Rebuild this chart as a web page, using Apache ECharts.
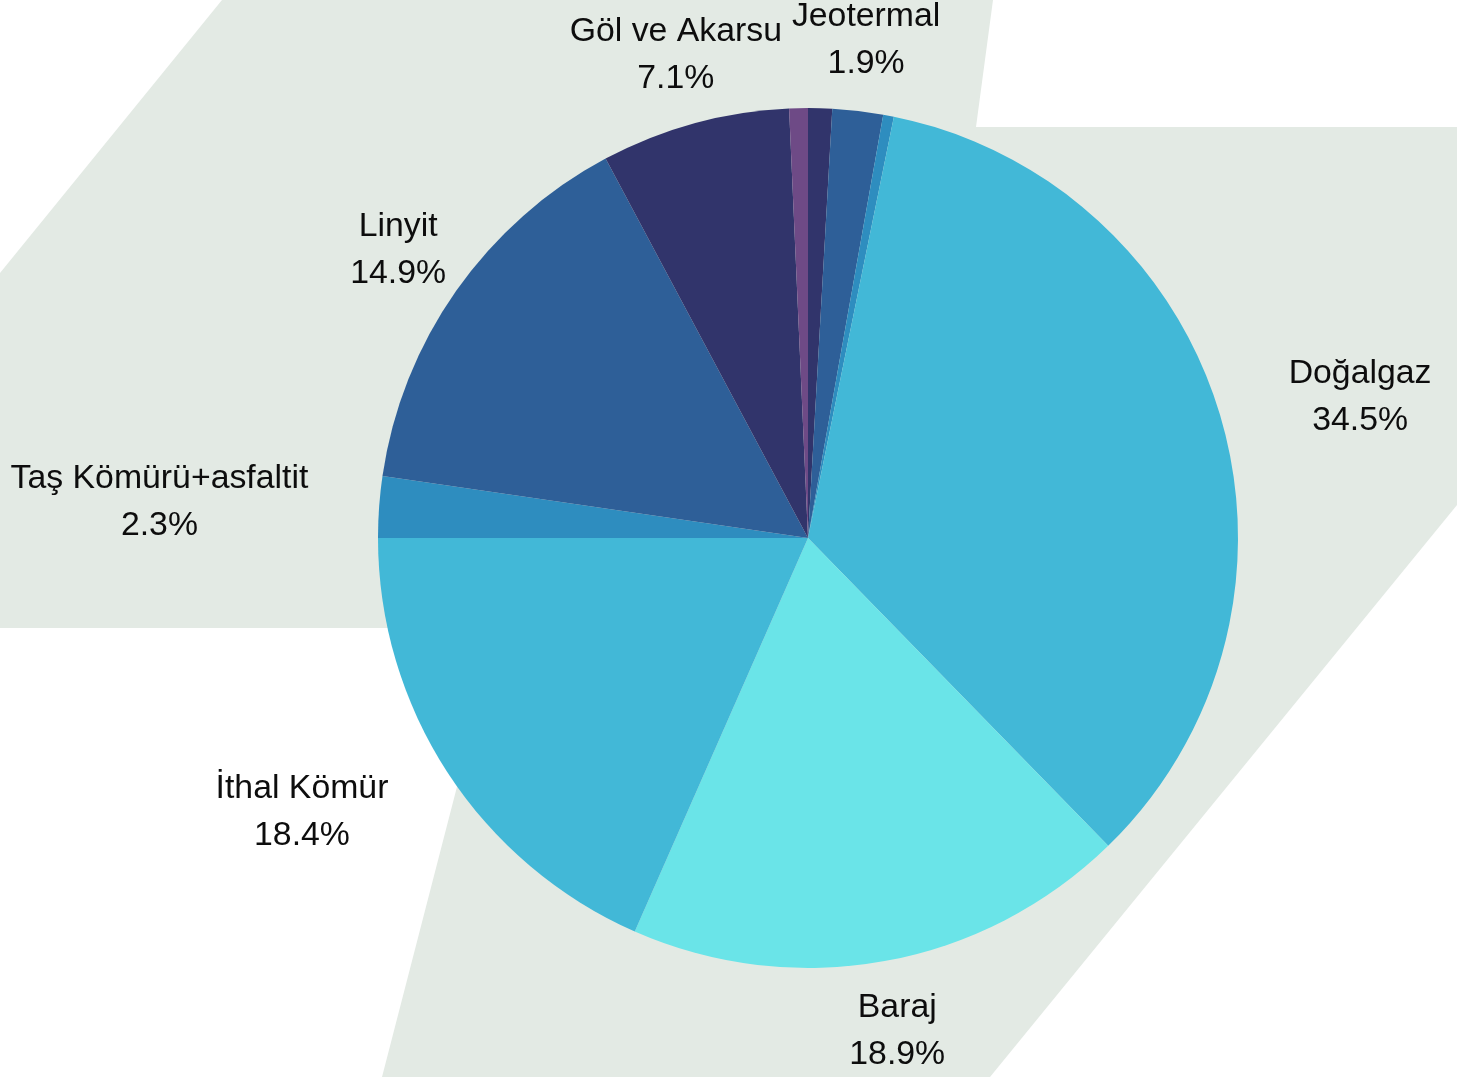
<!DOCTYPE html>
<html><head><meta charset="utf-8">
<script src="https://cdn.jsdelivr.net/npm/echarts@6.0.0/dist/echarts.min.js"></script>
<style>html,body{margin:0;padding:0;background:#fff}#chart{width:1457px;height:1077px}</style>
</head><body><div id="chart"></div>
<script>
// Data (percent shares), clockwise from 12 o'clock
const categories = ['Sıvı Yakıtlar', 'Jeotermal', 'Rüzgar', 'Doğalgaz', 'Baraj', 'İthal Kömür', 'Taş Kömürü+asfaltit', 'Linyit', 'Göl ve Akarsu', 'Diğer'];
const values = [0.9, 1.9, 0.4, 34.5, 18.9, 18.4, 2.3, 14.9, 7.1, 0.7];
const labelled = [false, true, false, true, true, true, true, true, true, false];
const palette = ['#31346b', '#2e5f98', '#2e8dbf', '#42b8d7', '#6ae4e8', '#42b8d7', '#2e8dbf', '#2e5f98', '#31346b', '#6e4a86'];

const CX = 808, CY = 538, RADIUS = 430, LABEL_R = 501;
const total = values.reduce((a, b) => a + b, 0);
const mids = [];
(function () { let acc = 0; values.forEach(v => { mids.push((acc + v / 2) / total * 2 * Math.PI); acc += v; }); })();

const chart = echarts.init(document.getElementById('chart'), null, { renderer: 'canvas' });
chart.setOption({
  animation: false,
  backgroundColor: '#ffffff',
  graphic: [{
    type: 'polygon', z: 0, silent: true,
    shape: { points: [[222, 0], [993, 0], [976, 127], [1457, 127], [1457, 505], [990, 1077], [382, 1077], [498, 628], [0, 628], [0, 273]] },
    style: { fill: '#e3eae4' }
  }],
  series: [{
    type: 'pie',
    z: 5,
    center: [CX, CY],
    radius: RADIUS,
    startAngle: 90,
    clockwise: true,
    avoidLabelOverlap: false,
    silent: true,
    itemStyle: { borderWidth: 0 },
    emphasis: { disabled: true },
    labelLine: { show: false },
    label: {
      show: true,
      position: 'outside',
      color: '#0d0d0d',
      fontFamily: "'Liberation Sans', Arial, sans-serif",
      fontSize: 33.8,
      lineHeight: 47,
      align: 'center',
      formatter: p => p.name + '\n' + p.value.toFixed(1) + '%'
    },
    labelLayout: function (p) {
      const a = mids[p.dataIndex];
      const dx = Math.sin(a), dy = -Math.cos(a);
      let x = CX + dx * LABEL_R, y = CY + dy * LABEL_R;
      if (Math.abs(dx) > 0.83) x += Math.sign(dx) * p.labelRect.width / 2;
      return { x: x, y: y, align: 'center', verticalAlign: 'middle' };
    },
    data: categories.map((name, i) => ({
      name: name,
      value: values[i],
      itemStyle: { color: palette[i] },
      label: { show: labelled[i] }
    }))
  }]
});
</script>
</body></html>
